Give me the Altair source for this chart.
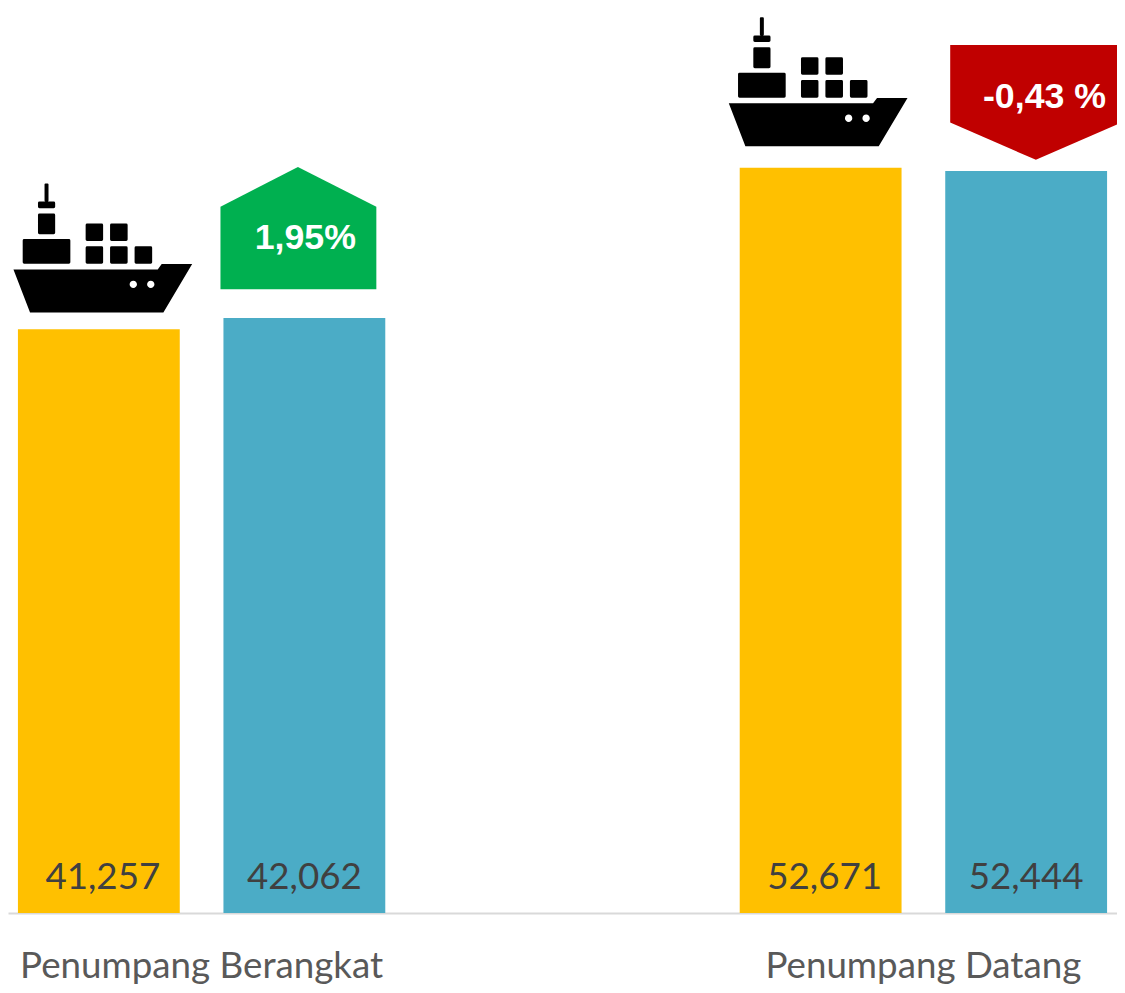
import altair as alt
import pandas as pd

categories = ["Penumpang Berangkat", "Penumpang Berangkat", "Penumpang Datang", "Penumpang Datang"]
periods = ["Periode Lalu", "Periode Kini", "Periode Lalu", "Periode Kini"]
values = [41257, 42062, 52671, 52444]
value_labels = ["41,257", "42,062", "52,671", "52,444"]
change_labels = ["", "1,95%", "", "-0,43 %"]
group_order = ["Penumpang Berangkat", "Penumpang Datang"]
period_order = ["Periode Lalu", "Periode Kini"]
bar_colors = ["#FFC000", "#4BACC6"]

df = pd.DataFrame({"kategori": categories, "periode": periods, "nilai": values,
                   "label": value_labels, "perubahan": change_labels})

WIDTH = 1117
HEIGHT = 908
x_scale = alt.Scale(domain=group_order, paddingInner=357 / 727, paddingOuter=10 / 727)
off_scale = alt.Scale(domain=period_order, paddingInner=44 / 207, paddingOuter=0)
y_scale = alt.Scale(domain=[0, 63720])

X = alt.X("kategori:N", scale=x_scale, title=None, sort=group_order,
          axis=alt.Axis(labelAngle=0, ticks=False, labelFontSize=37, labelColor="#595959",
                        labelFont="Lato", labelPadding=36, labelLimit=0, labelOverlap=False,
                        domainColor="#D9D9D9", domainWidth=2, grid=False))
XO = alt.XOffset("periode:N", scale=off_scale, sort=period_order)
Y = alt.Y("nilai:Q", scale=y_scale, axis=None)


def rrect(x0, y0, x1, y1, r=1.5):
    return (f"M{x0+r},{y0}L{x1-r},{y0}Q{x1},{y0} {x1},{y0+r}L{x1},{y1-r}Q{x1},{y1} {x1-r},{y1}"
            f"L{x0+r},{y1}Q{x0},{y1} {x0},{y1-r}L{x0},{y0+r}Q{x0},{y0} {x0+r},{y0}Z")


def hole(cx, cy, r=3.7):
    # wound against the hull so that it is left open
    return f"M{cx+r},{cy}A{r},{r} 0 1 0 {cx-r},{cy}A{r},{r} 0 1 0 {cx+r},{cy}Z"


def ship(ox, oy):
    def rr(a, b, c, d, r=1.5):
        return rrect(a + ox, b + oy, c + ox, d + oy, r)
    hull = (f"M{-86+ox},{-60.3+oy}L{59.3+ox},{-60.3+oy}L{63.3+ox},{-65.7+oy}L{94+ox},{-65.7+oy}"
            f"L{65+ox},{-17+oy}L{-69.3+ox},{-17+oy}Z")
    parts = [hull, hole(34.7 + ox, -45.3 + oy), hole(52.3 + ox, -45.3 + oy),
             rr(-13.3, -106.7, 4.3, -89), rr(11.3, -106.7, 29, -89),
             rr(-13.3, -83.7, 4.3, -66), rr(11.3, -83.7, 29, -66), rr(36, -83.7, 53.7, -66),
             rr(-76.7, -91, -28.7, -66), rr(-61.3, -116.7, -44, -95.7),
             rr(-61.3, -128.7, -44, -122), rr(-54.7, -147, -50.7, -128.7, 1)]
    return "".join(parts)


green_shape = "M-84.5,-112L-6.5,-152L72.5,-112L72.5,-29L-84.5,-29Z"
red_shape = "M-76.5,-127L96.5,-127L96.5,-49L9.8,-11.3L-76.5,-49Z"

base = alt.Chart(df)
lalu = "datum.periode === 'Periode Lalu'"
kini = "datum.periode === 'Periode Kini'"


def symbol(path, color, cond):
    return base.transform_filter(cond).mark_point(
        shape=path, size=4, filled=True, fill=color, opacity=1, strokeWidth=0
    ).encode(x=X, xOffset=XO, y=Y)


bars = base.mark_bar().encode(
    x=X, xOffset=XO, y=Y,
    color=alt.Color("periode:N", scale=alt.Scale(domain=period_order, range=bar_colors), legend=None),
)


def value_text(cond, dx):
    return base.transform_filter(cond).mark_text(
        font="Lato", fontSize=37, color="#404040", align="center", baseline="middle", dx=dx, dy=-35
    ).encode(x=X, xOffset=XO, y=alt.Y(datum=0, scale=y_scale, axis=None), text="label:N")


def change_text(cond, dx, dy):
    return base.transform_filter(cond).mark_text(
        font="Liberation Sans", fontWeight="bold", fontSize=36, color="#FFFFFF",
        align="center", baseline="middle", dx=dx, dy=dy
    ).encode(x=X, xOffset=XO, y=Y, text="perubahan:N")


cat1 = "datum.kategori === 'Penumpang Berangkat'"
cat2 = "datum.kategori === 'Penumpang Datang'"

chart = alt.layer(
    bars,
    symbol(ship(0, 0), "#000000", f"{lalu} && {cat1}"),
    symbol(ship(-6.5, -4.7), "#000000", f"{lalu} && {cat2}"),
    symbol(green_shape, "#00B050", f"{kini} && {cat1}"),
    symbol(red_shape, "#C00000", f"{kini} && {cat2}"),
    value_text(lalu, 4),
    value_text(kini, 0),
    change_text(f"{kini} && {cat1}", 1, -80),
    change_text(f"{kini} && {cat2}", 18.5, -75),
).properties(
    width=WIDTH, height=HEIGHT,
    padding={"left": 0, "top": 0, "right": 0, "bottom": 77},
    autosize=alt.AutoSizeParams(type="none"),
    background="#FFFFFF",
).configure_view(stroke=None)

chart.save("out.html", embed_options={"renderer": "svg", "actions": False})
